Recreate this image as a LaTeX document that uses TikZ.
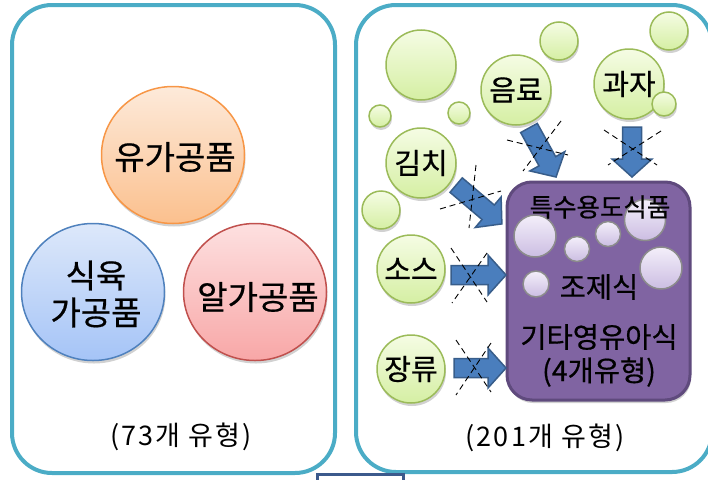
\documentclass[tikz,border=0pt]{standalone}
\usepackage{fontspec}
\setmainfont{Noto Sans CJK KR}
\newfontfamily\lblfont{Noto Sans CJK KR}[FakeBold=0.6]
\usetikzlibrary{shapes.geometric,shadows}
\definecolor{panelc}{HTML}{4BACC6}
\definecolor{orgb}{HTML}{F79646}\definecolor{orgt}{HTML}{FDEADA}\definecolor{orgbot}{HTML}{FBC08E}
\definecolor{blub}{HTML}{4F81BD}\definecolor{blut}{HTML}{DDE8FA}\definecolor{blubot}{HTML}{A5C4F7}
\definecolor{redb}{HTML}{C0504D}\definecolor{redt}{HTML}{FDE0E0}\definecolor{redbot}{HTML}{F8A7A7}
\definecolor{grnb}{HTML}{9BBB59}\definecolor{grnt}{HTML}{F5FCE4}\definecolor{grnbot}{HTML}{D5EFA3}
\definecolor{purf}{HTML}{8064A2}\definecolor{purb}{HTML}{5F4A7D}
\definecolor{lavt}{HTML}{F4EFFA}\definecolor{lavbot}{HTML}{CBBDE2}
\definecolor{arrf}{HTML}{4A7EBD}\definecolor{arrb}{HTML}{385D8A}
\definecolor{barc}{HTML}{3C5A8C}
\tikzset{
  panel/.style={draw=panelc, line width=4pt, rounded corners=40pt, inner sep=0pt},
  softshadow/.style={drop shadow={shadow xshift=1pt, shadow yshift=-3pt, opacity=0.18, fill=black}},
  bigball/.style={ellipse, minimum width=143pt, minimum height=137pt, inner sep=0pt, line width=1.5pt, softshadow},
  biglabel/.style={align=center, font=\lblfont\fontsize{33}{37}\selectfont},
  greenball/.style={circle, draw=grnb, line width=1.5pt, top color=grnt, bottom color=grnbot, inner sep=0pt, softshadow, font=\lblfont\fontsize{29}{30}\selectfont},
  lavball/.style={circle, draw=gray!90, line width=1.5pt, top color=lavt, bottom color=lavbot, inner sep=0pt},
  arrowbody/.style={fill=arrf, draw=arrb, line width=1.5pt, line join=miter},
  burst/.style={black, line width=0.9pt, dash pattern=on 6pt off 4pt},
  caption/.style={font=\fontsize{27}{30}\selectfont\addfontfeatures{LetterSpace=8}},
  boxtext/.style={font=\lblfont\fontsize{28.5}{30}\selectfont}
}
% block arrow: #1 centre coordinate, #2 angle, #3 half length
\newcommand{\blockarr}[3]{%
  \draw[arrowbody, shift={(#1)}, rotate=#2]
    (-#3,-9.5) -- ({#3-18},-9.5) -- ({#3-18},-20) -- (#3,0) -- ({#3-18},20) -- ({#3-18},9.5) -- (-#3,9.5) -- cycle;}
\begin{document}
\begin{tikzpicture}[x=1pt,y=-1pt]
\useasboundingbox (0,0) rectangle (708,479);
% panels
\node[panel, minimum width=323pt, minimum height=468pt] (lp) at (173.5,239) {};
\node[panel, minimum width=356pt, minimum height=467pt] (rp) at (534,238.5) {};
\node[draw=barc, fill=white, line width=3pt, minimum width=86pt, minimum height=14pt, inner sep=0pt] (bar) at (360,481) {};
% left circles
\node[bigball, draw=orgb, top color=orgt, bottom color=orgbot] (milk) at (173,155) {};
\node[bigball, draw=blub, top color=blut, bottom color=blubot] (meat) at (93,292) {};
\node[bigball, draw=redb, top color=redt, bottom color=redbot] (egg) at (255,292) {};
\node[biglabel] (milkt) at (175,157) {유가공품};
\node[biglabel] (meatt) at (96,294) {식육\\가공품};
\node[biglabel] (eggt) at (258,297) {알가공품};
\node[caption] (c1) at (181,437) {(73개 유형)};
% green circles
\node[greenball, minimum size=70pt] (g1) at (421,65) {};
\node[greenball, minimum size=22pt] (g2) at (380,116) {};
\node[greenball, minimum size=22pt] (g3) at (459,113) {};
\node[greenball, minimum size=38pt] (g4) at (559,41) {};
\node[greenball, minimum size=38pt] (g5) at (669,31) {};
\node[greenball, minimum size=38pt] (g6) at (381,210) {};
\node[greenball, minimum size=70pt] (drink) at (516,90) {음료};
\node[greenball, minimum size=70pt] (snack) at (629,84) {과자};
\node[greenball, minimum size=24pt] (g7) at (664,104) {};
\node[greenball, minimum size=70pt] (kimchi) at (421,163) {김치};
\node[greenball, minimum size=68pt] (sauce) at (411,269) {소스};
\node[greenball, minimum size=68pt] (jang) at (411,369) {장류};
% purple box
\node[draw=purb, fill=purf, line width=3pt, rounded corners=25pt, minimum width=183pt, minimum height=218pt, inner sep=0pt, softshadow] (box) at (598.5,291) {};
\node[lavball, minimum size=42pt] (l1) at (535,236) {};
\node[lavball, minimum size=25pt] (l2) at (577,249) {};
\node[lavball, minimum size=25pt] (l3) at (608,234) {};
\node[lavball, minimum size=41pt] (l4) at (645,220) {};
\node[lavball, minimum size=42pt] (l5) at (661,268) {};
\node[lavball, minimum size=26pt] (l6) at (536,284) {};
\node[font=\lblfont\fontsize{25.5}{28}\selectfont] (t1) at (600,207) {특수용도식품};
\node[boxtext] (t2) at (599,287) {조제식};
\node[boxtext] (t3) at (599,337) {기타영유아식};
\node[boxtext] (t4) at (599,372) {(4개유형)};
\node[caption] (c2) at (545,438) {(201개 유형)};
% arrows
\coordinate (a1) at (478.5,275);
\coordinate (a2) at (480,368);
\coordinate (a3) at (479,204.5);
\coordinate (a4) at (542.5,152.5);
\coordinate (a5) at (632,152);
\blockarr{a1}{0}{27.5}
\blockarr{a2}{0}{26}
\blockarr{a3}{-40.3}{30}
\blockarr{a4}{-61.1}{28}
\blockarr{a5}{-90}{25}
% bursts
\coordinate (s1a) at (451,248); \coordinate (s1b) at (487,302);
\coordinate (s1c) at (487,253); \coordinate (s1d) at (452,303);
\draw[burst] (s1a) -- (s1b); \draw[burst] (s1c) -- (s1d);
\coordinate (s2a) at (456,340); \coordinate (s2b) at (491,392);
\coordinate (s2c) at (491,343); \coordinate (s2d) at (456,395);
\draw[burst] (s2a) -- (s2b); \draw[burst] (s2c) -- (s2d);
\coordinate (s3a) at (476,165); \coordinate (s3b) at (469,228);
\coordinate (s3c) at (440,209); \coordinate (s3d) at (501,191);
\draw[burst] (s3a) -- (s3b); \draw[burst] (s3c) -- (s3d);
\coordinate (s4a) at (507,140); \coordinate (s4b) at (568,155);
\coordinate (s4c) at (561,121); \coordinate (s4d) at (523,171);
\draw[burst] (s4a) -- (s4b); \draw[burst] (s4c) -- (s4d);
\coordinate (s5a) at (604,130); \coordinate (s5b) at (657,165);
\coordinate (s5c) at (661,131); \coordinate (s5d) at (608,165);
\draw[burst] (s5a) -- (s5b); \draw[burst] (s5c) -- (s5d);
\end{tikzpicture}
\end{document}
